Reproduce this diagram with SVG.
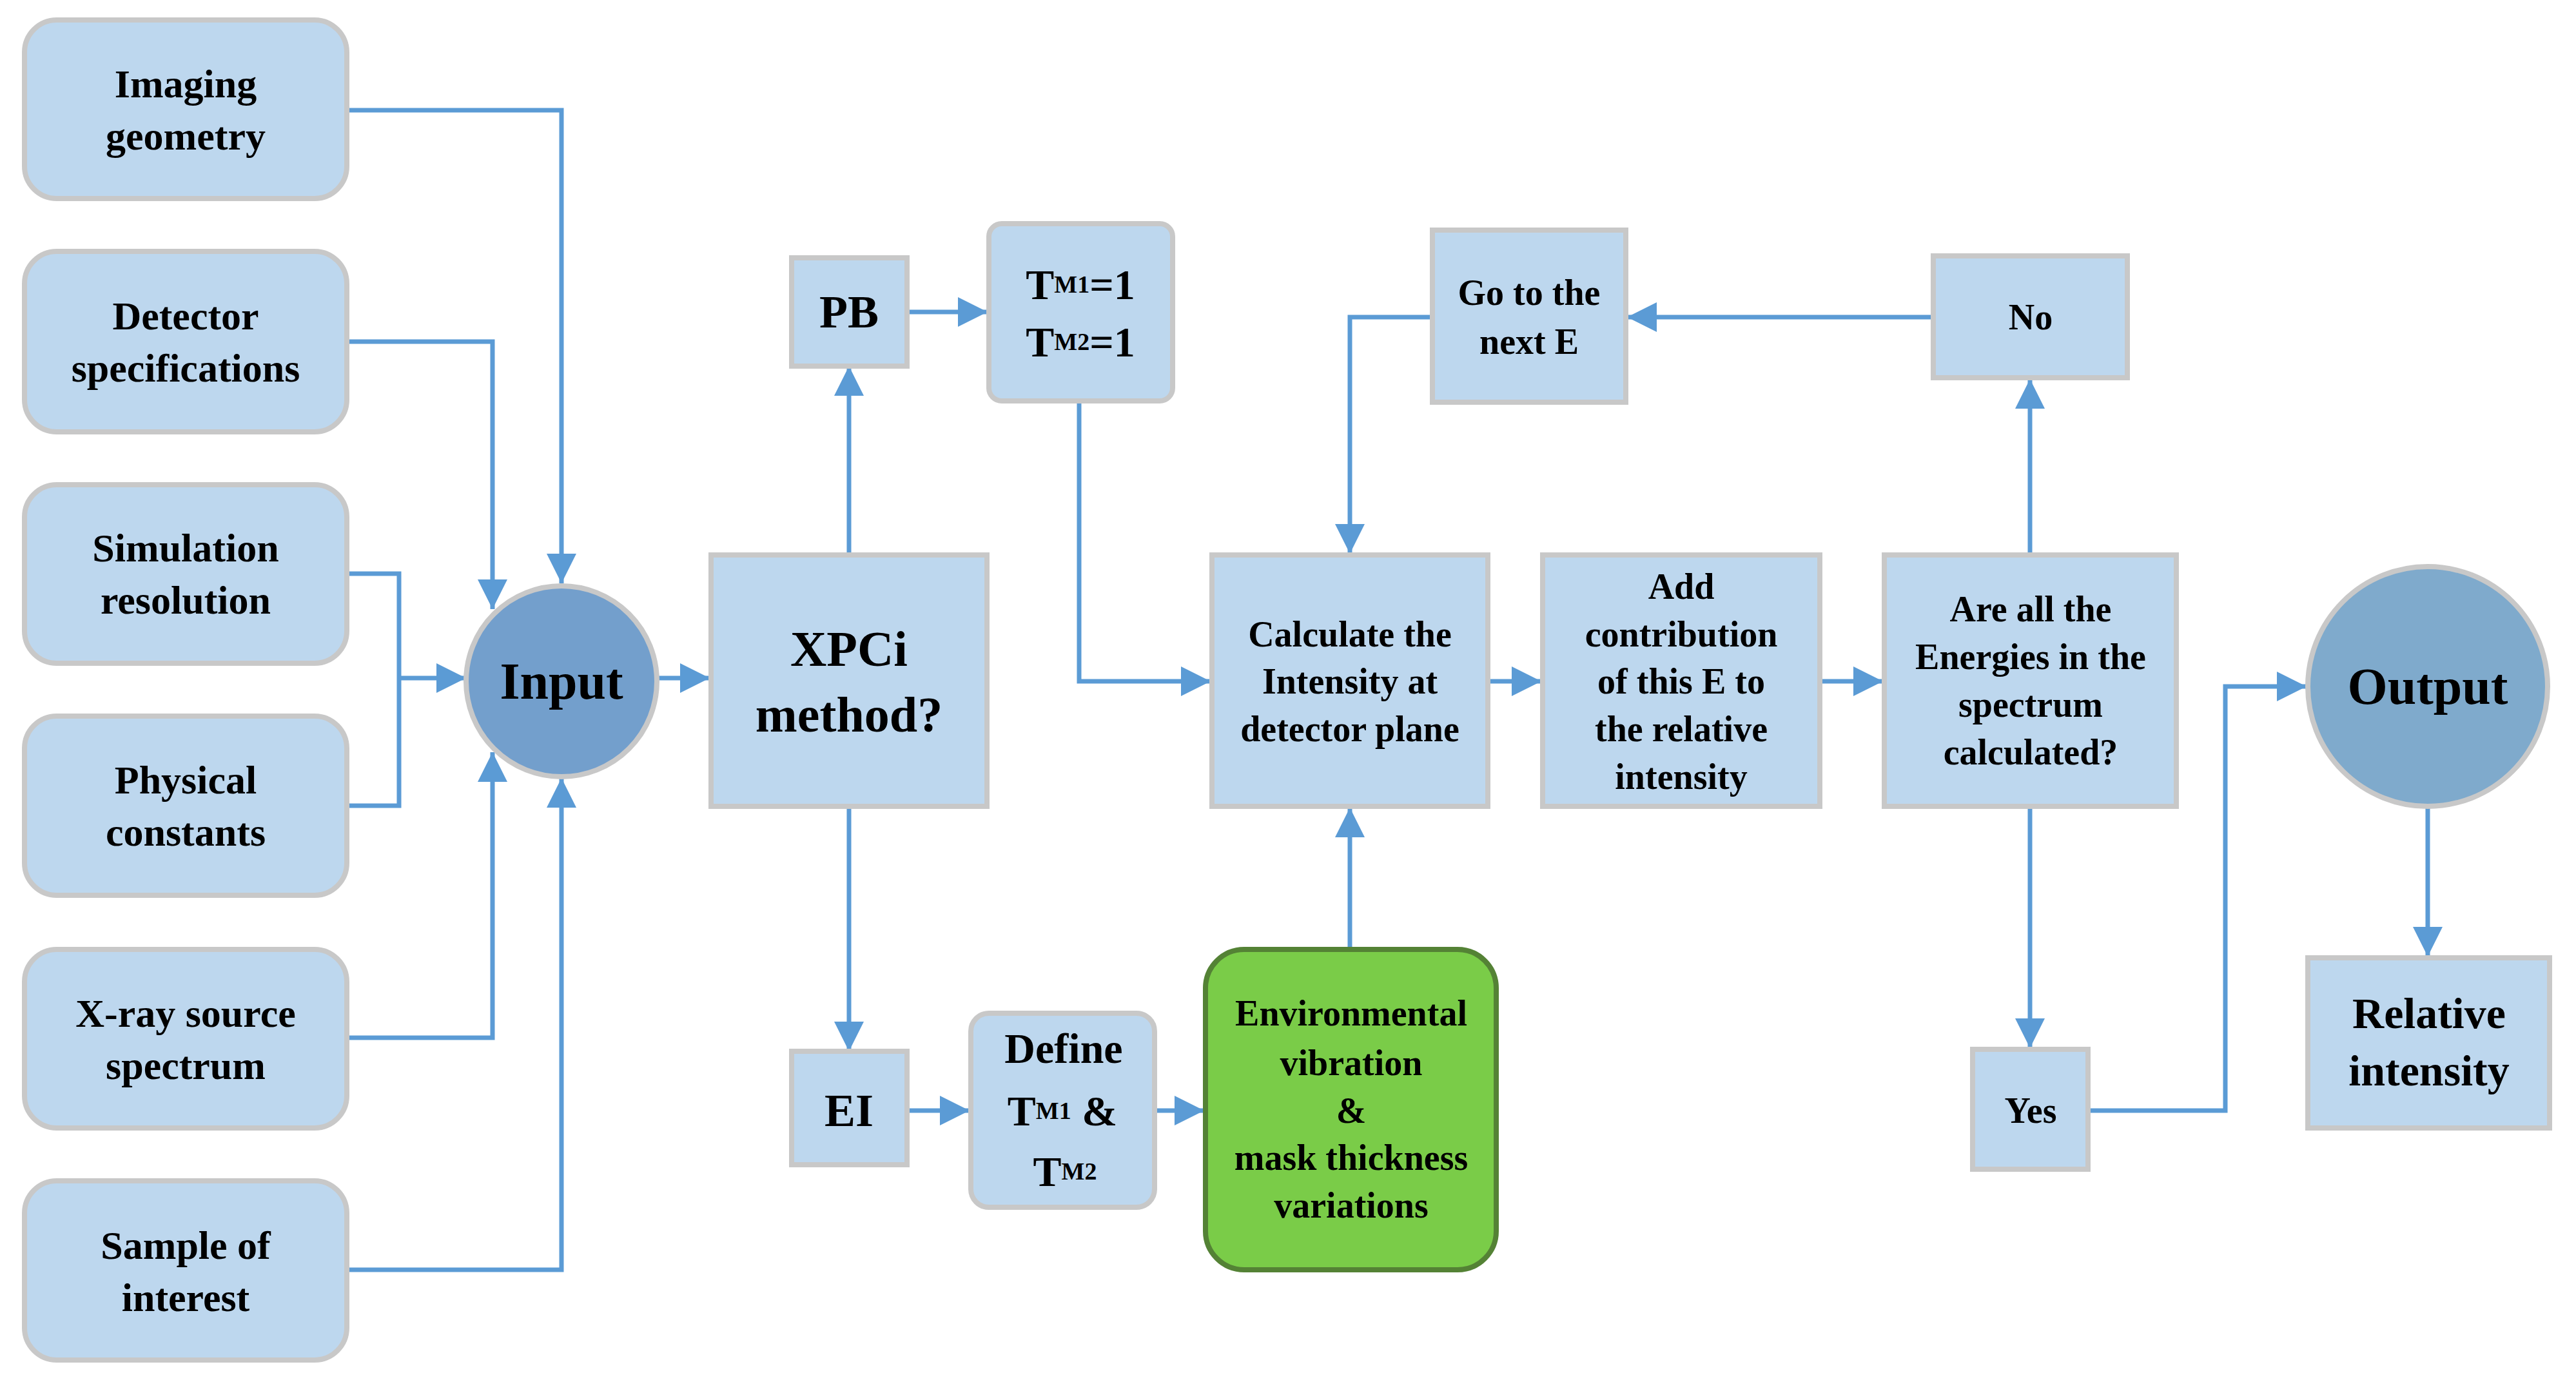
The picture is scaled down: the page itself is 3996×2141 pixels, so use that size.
<svg xmlns="http://www.w3.org/2000/svg" width="3996" height="2141" viewBox="0 0 3996 2141">
<style>
.b{fill:#bdd7ee;stroke:#c8c8c8;stroke-width:8}
.t{font-family:"Liberation Serif",serif;font-weight:bold;fill:#000;text-anchor:middle;dominant-baseline:central}
.s{font-size:62px}.m{font-size:56px}.L{font-size:80px}
.c{fill:none;stroke:#5b9bd5;stroke-width:7;marker-end:url(#a)}
</style>
<defs><marker id="a" markerUnits="userSpaceOnUse" markerWidth="46" markerHeight="46" refX="46" refY="23" orient="auto"><path d="M0,0L46,23L0,46Z" fill="#5b9bd5"/></marker></defs>
<rect width="3996" height="2141" fill="#fff"/>
<g id="connectors">
<path class="c" d="M538,171H871V905"/>
<path class="c" d="M538,530H764V945"/>
<path d="M538,890H619V1250H538M619,1052" fill="none" stroke="#5b9bd5" stroke-width="7"/>
<path class="c" d="M619,1052H723"/>
<path class="c" d="M538,1610H764V1167"/>
<path class="c" d="M538,1970H871V1207"/>
<path class="c" d="M1020,1052H1101"/>
<path class="c" d="M1317,861V568"/>
<path class="c" d="M1407,484H1532"/>
<path class="c" d="M1674,622V1057H1878"/>
<path class="c" d="M1317,1251V1631"/>
<path class="c" d="M1407,1723H1504"/>
<path class="c" d="M1791,1723H1868"/>
<path class="c" d="M2094,1473V1253"/>
<path class="c" d="M2222,492H2094V859"/>
<path class="c" d="M2308,1057H2391"/>
<path class="c" d="M2823,1057H2921"/>
<path class="c" d="M3149,861V588"/>
<path class="c" d="M2999,492H2524"/>
<path class="c" d="M3149,1251V1626"/>
<path class="c" d="M3239,1723H3452V1065H3578"/>
<path class="c" d="M3766,1251V1484"/>
</g>
<g id="imaging"><rect class="b" x="38" y="31" width="500" height="277" rx="50"/><text class="t s" x="288" y="130">Imaging</text><text class="t s" x="288" y="211">geometry</text></g>
<g id="detector"><rect class="b" x="38" y="390" width="500" height="280" rx="50"/><text class="t s" x="288" y="490">Detector</text><text class="t s" x="288" y="571">specifications</text></g>
<g id="simulation"><rect class="b" x="38" y="752" width="500" height="277" rx="50"/><text class="t s" x="288" y="850">Simulation</text><text class="t s" x="288" y="931">resolution</text></g>
<g id="physical"><rect class="b" x="38" y="1111" width="500" height="278" rx="50"/><text class="t s" x="288" y="1210">Physical</text><text class="t s" x="288" y="1291">constants</text></g>
<g id="xray"><rect class="b" x="38" y="1473" width="500" height="277" rx="50"/><text class="t s" x="288" y="1572">X-ray source</text><text class="t s" x="288" y="1653">spectrum</text></g>
<g id="sample"><rect class="b" x="38" y="1832" width="500" height="278" rx="50"/><text class="t s" x="288" y="1932">Sample of</text><text class="t s" x="288" y="2013">interest</text></g>
<g id="input"><circle cx="871" cy="1057" r="148" fill="#739fcc" stroke="#c8c8c8" stroke-width="8"/><text class="t L" x="871" y="1057">Input</text></g>
<g id="xpci"><rect class="b" x="1103" y="861" width="428" height="390"/><text class="t" style="font-size:78px" x="1317" y="1006">XPCi</text><text class="t" style="font-size:78px" x="1317" y="1108">method?</text></g>
<g id="pb"><rect class="b" x="1228" y="400" width="179" height="168"/><text class="t" style="font-size:72px" x="1317" y="484">PB</text></g>
<g id="tm"><rect class="b" x="1534" y="347" width="285" height="275" rx="20"/><text class="t" style="font-size:66px" x="1676" y="441">T<tspan style="font-size:38px">M1</tspan>=1</text><text class="t" style="font-size:66px" x="1676" y="530">T<tspan style="font-size:38px">M2</tspan>=1</text></g>
<g id="ei"><rect class="b" x="1228" y="1631" width="179" height="176"/><text class="t" style="font-size:72px" x="1317" y="1723">EI</text></g>
<g id="define"><rect class="b" x="1506" y="1572" width="285" height="301" rx="28"/><text class="t" style="font-size:66px" x="1650" y="1626">Define</text><text class="t" style="font-size:66px" x="1648" y="1723">T<tspan style="font-size:38px">M1</tspan>   &amp;</text><text class="t" style="font-size:66px" x="1652" y="1817">T<tspan style="font-size:38px">M2</tspan></text></g>
<g id="env"><rect x="1870" y="1473" width="451" height="497" rx="60" fill="#7acc48" stroke="#548235" stroke-width="8"/><text class="t m" x="2096" y="1572">Environmental</text><text class="t m" x="2096" y="1649">vibration</text><text class="t m" x="2096" y="1723">&amp;</text><text class="t m" x="2096" y="1796">mask thickness</text><text class="t m" x="2096" y="1870">variations</text></g>
<g id="calc"><rect class="b" x="1880" y="861" width="428" height="390"/><text class="t m" x="2094" y="984">Calculate the</text><text class="t m" x="2094" y="1057">Intensity at</text><text class="t m" x="2094" y="1131">detector plane</text></g>
<g id="goto"><rect class="b" x="2222" y="357" width="300" height="267"/><text class="t m" x="2372" y="454">Go to the</text><text class="t m" x="2372" y="530">next E</text></g>
<g id="add"><rect class="b" x="2393" y="861" width="430" height="390"/><text class="t m" x="2608" y="910">Add</text><text class="t m" x="2608" y="984">contribution</text><text class="t m" x="2608" y="1057">of this E to</text><text class="t m" x="2608" y="1131">the relative</text><text class="t m" x="2608" y="1205">intensity</text></g>
<g id="are"><rect class="b" x="2923" y="861" width="453" height="390"/><text class="t m" x="3150" y="945">Are all the</text><text class="t m" x="3150" y="1019">Energies in the</text><text class="t m" x="3150" y="1093">spectrum</text><text class="t m" x="3150" y="1167">calculated?</text></g>
<g id="no"><rect class="b" x="2999" y="397" width="301" height="189"/><text class="t m" x="3150" y="492">No</text></g>
<g id="yes"><rect class="b" x="3060" y="1628" width="179" height="186"/><text class="t m" x="3150" y="1723">Yes</text></g>
<g id="output"><circle cx="3766" cy="1065" r="186" fill="#7faacc" stroke="#c8c8c8" stroke-width="8"/><text class="t L" x="3766" y="1065">Output</text></g>
<g id="relative"><rect class="b" x="3580" y="1486" width="375" height="264"/><text class="t" style="font-size:68px" x="3768" y="1572">Relative</text><text class="t" style="font-size:68px" x="3768" y="1661">intensity</text></g>
</svg>
